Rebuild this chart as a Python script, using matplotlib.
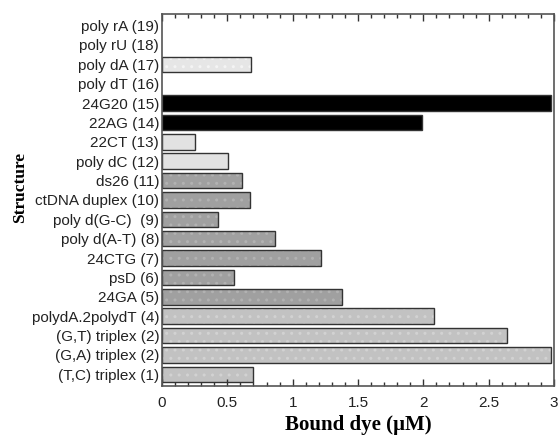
import matplotlib
matplotlib.use("Agg")
import matplotlib.pyplot as plt
from matplotlib.ticker import MultipleLocator, FormatStrFormatter

# categories bottom to top
labels = ["(T,C) triplex (1)", "(G,A) triplex (2)", "(G,T) triplex (2)",
          "polydA.2polydT (4)", "24GA (5)", "psD (6)", "24CTG (7)",
          "poly d(A-T) (8)", "poly d(G-C)  (9)", "ctDNA duplex (10)",
          "ds26 (11)", "poly dC (12)", "22CT (13)", "22AG (14)",
          "24G20 (15)", "poly dT (16)", "poly dA (17)", "poly rU (18)",
          "poly rA (19)"]
bound = [0.70, 2.98, 2.64, 2.08, 1.375, 0.55, 1.22, 0.865, 0.43, 0.67,
         0.61, 0.505, 0.255, 1.99, 2.98, 0.0, 0.68, 0.0, 0.0]
fills = ["#c2c2c2"] * 4 + ["#a0a0a0"] * 7 + ["#e2e2e2"] * 2 + ["#000000"] * 2 \
        + ["#ffffff", "#e6e6e6", "#ffffff", "#ffffff"]
hatch_col = ["#d2d2d2"] * 4 + ["#b2b2b2"] * 7 + ["#e2e2e2"] * 2 + ["#000000"] * 2 \
        + ["#ffffff", "#f4f4f4", "#ffffff", "#ffffff"]

plt.rcParams['font.family'] = ['Liberation Sans', 'DejaVu Sans']

f = plt.figure(figsize=(5.59, 4.37), dpi=100)
ax = f.add_axes([0.2898, 0.117, 0.7013, 0.851])

ypos = range(len(labels))
# fill with a faint dotted texture, then the outline on top
ax.barh(ypos, bound, height=0.8, color=fills, edgecolor=hatch_col,
        hatch="..", linewidth=0)
for y, v in zip(ypos, bound):
    if v > 0:
        ax.barh(y, v, height=0.8, fill=False, edgecolor="#333333", linewidth=1.0)

ax.set_xlim(0, 3)
ax.set_ylim(-0.6, len(labels) - 0.4)
ax.set_yticks(list(ypos))
ax.set_yticklabels(labels, fontsize=11, color="#222222")
ax.tick_params(axis="y", length=0, pad=2)

ax.xaxis.set_major_locator(MultipleLocator(0.5))
ax.xaxis.set_minor_locator(MultipleLocator(0.1))
ax.xaxis.set_major_formatter(FormatStrFormatter("%g"))
ax.tick_params(axis="x", which="major", direction="in", top=True, length=5,
               width=1, labelsize=11, labelcolor="#222222", pad=7,
               color="#333333")
ax.tick_params(axis="x", which="minor", direction="in", top=True, length=3,
               width=1, color="#333333")

for s in ax.spines.values():
    s.set_color("#555555")
    s.set_linewidth(1.2)

ax.set_xlabel("Bound dye (\u00b5M)", family="Liberation Serif",
              fontweight="bold", fontsize=15, labelpad=4)
f.text(0.036, 0.57, "Structure", family="Liberation Serif", fontweight="bold",
       fontsize=12.5, rotation=90, ha="center", va="center")

f.savefig("out.png", dpi=100)
plt.close()
